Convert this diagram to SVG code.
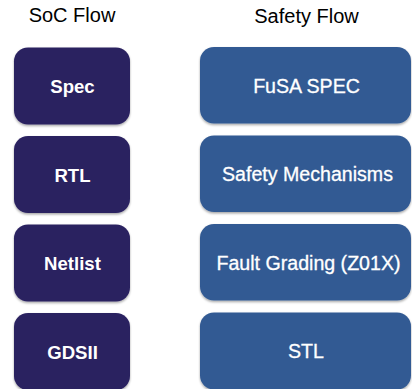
<svg xmlns="http://www.w3.org/2000/svg" width="412" height="389" viewBox="0 0 412 389">
  <defs>
    <filter id="shadow" x="-10%" y="-10%" width="120%" height="130%">
      <feDropShadow dx="0" dy="1.5" stdDeviation="1.2" flood-color="#000" flood-opacity="0.35"/>
    </filter>
  </defs>
  <style>
    .title { font-family: "Liberation Sans", Arial, sans-serif; font-size: 20px; fill: #000; text-anchor: middle; }
    .soc rect { fill: #2a2161; filter: url(#shadow); }
    .safety rect { fill: #335a93; filter: url(#shadow); }
    .soc text { font-family: "Liberation Sans", Arial, sans-serif; font-size: 18.6px; font-weight: bold; fill: #fff; text-anchor: middle; }
    .safety text { font-family: "Liberation Sans", Arial, sans-serif; font-size: 19.6px; fill: #fff; stroke: #fff; stroke-width: 0.3px; text-anchor: middle; }
  </style>

  <rect width="412" height="389" fill="#fff"/>

  <!-- column headings -->
  <text class="title" x="72" y="22">SoC Flow</text>
  <text class="title" x="306.5" y="23">Safety Flow</text>

  <!-- SoC flow column -->
  <g id="spec" class="soc">
    <rect x="14" y="47.5" width="116" height="77" rx="14"/>
    <text x="72.5" y="93">Spec</text>
  </g>
  <g id="rtl" class="soc">
    <rect x="14" y="136" width="116" height="77" rx="14"/>
    <text x="72.5" y="181.5">RTL</text>
  </g>
  <g id="netlist" class="soc">
    <rect x="14" y="224.5" width="116" height="77" rx="14"/>
    <text x="72.5" y="270">Netlist</text>
  </g>
  <g id="gdsii" class="soc">
    <rect x="14" y="313" width="116" height="77" rx="14"/>
    <text x="72.5" y="358.5">GDSII</text>
  </g>

  <!-- Safety flow column -->
  <g id="fusa-spec" class="safety">
    <rect x="200" y="47" width="211" height="76.5" rx="14"/>
    <text x="306.5" y="92.5">FuSA SPEC</text>
  </g>
  <g id="safety-mechanisms" class="safety">
    <rect x="200" y="135.5" width="211" height="76.5" rx="14"/>
    <text x="307.5" y="181">Safety Mechanisms</text>
  </g>
  <g id="fault-grading" class="safety">
    <rect x="200" y="224" width="211" height="76.5" rx="14"/>
    <text x="308.5" y="269.5">Fault Grading (Z01X)</text>
  </g>
  <g id="stl" class="safety">
    <rect x="200" y="312.5" width="211" height="77" rx="14"/>
    <text x="306" y="358">STL</text>
  </g>

  <!-- the columns are stacked without connecting lines -->
  <g id="connectors"/>
</svg>
